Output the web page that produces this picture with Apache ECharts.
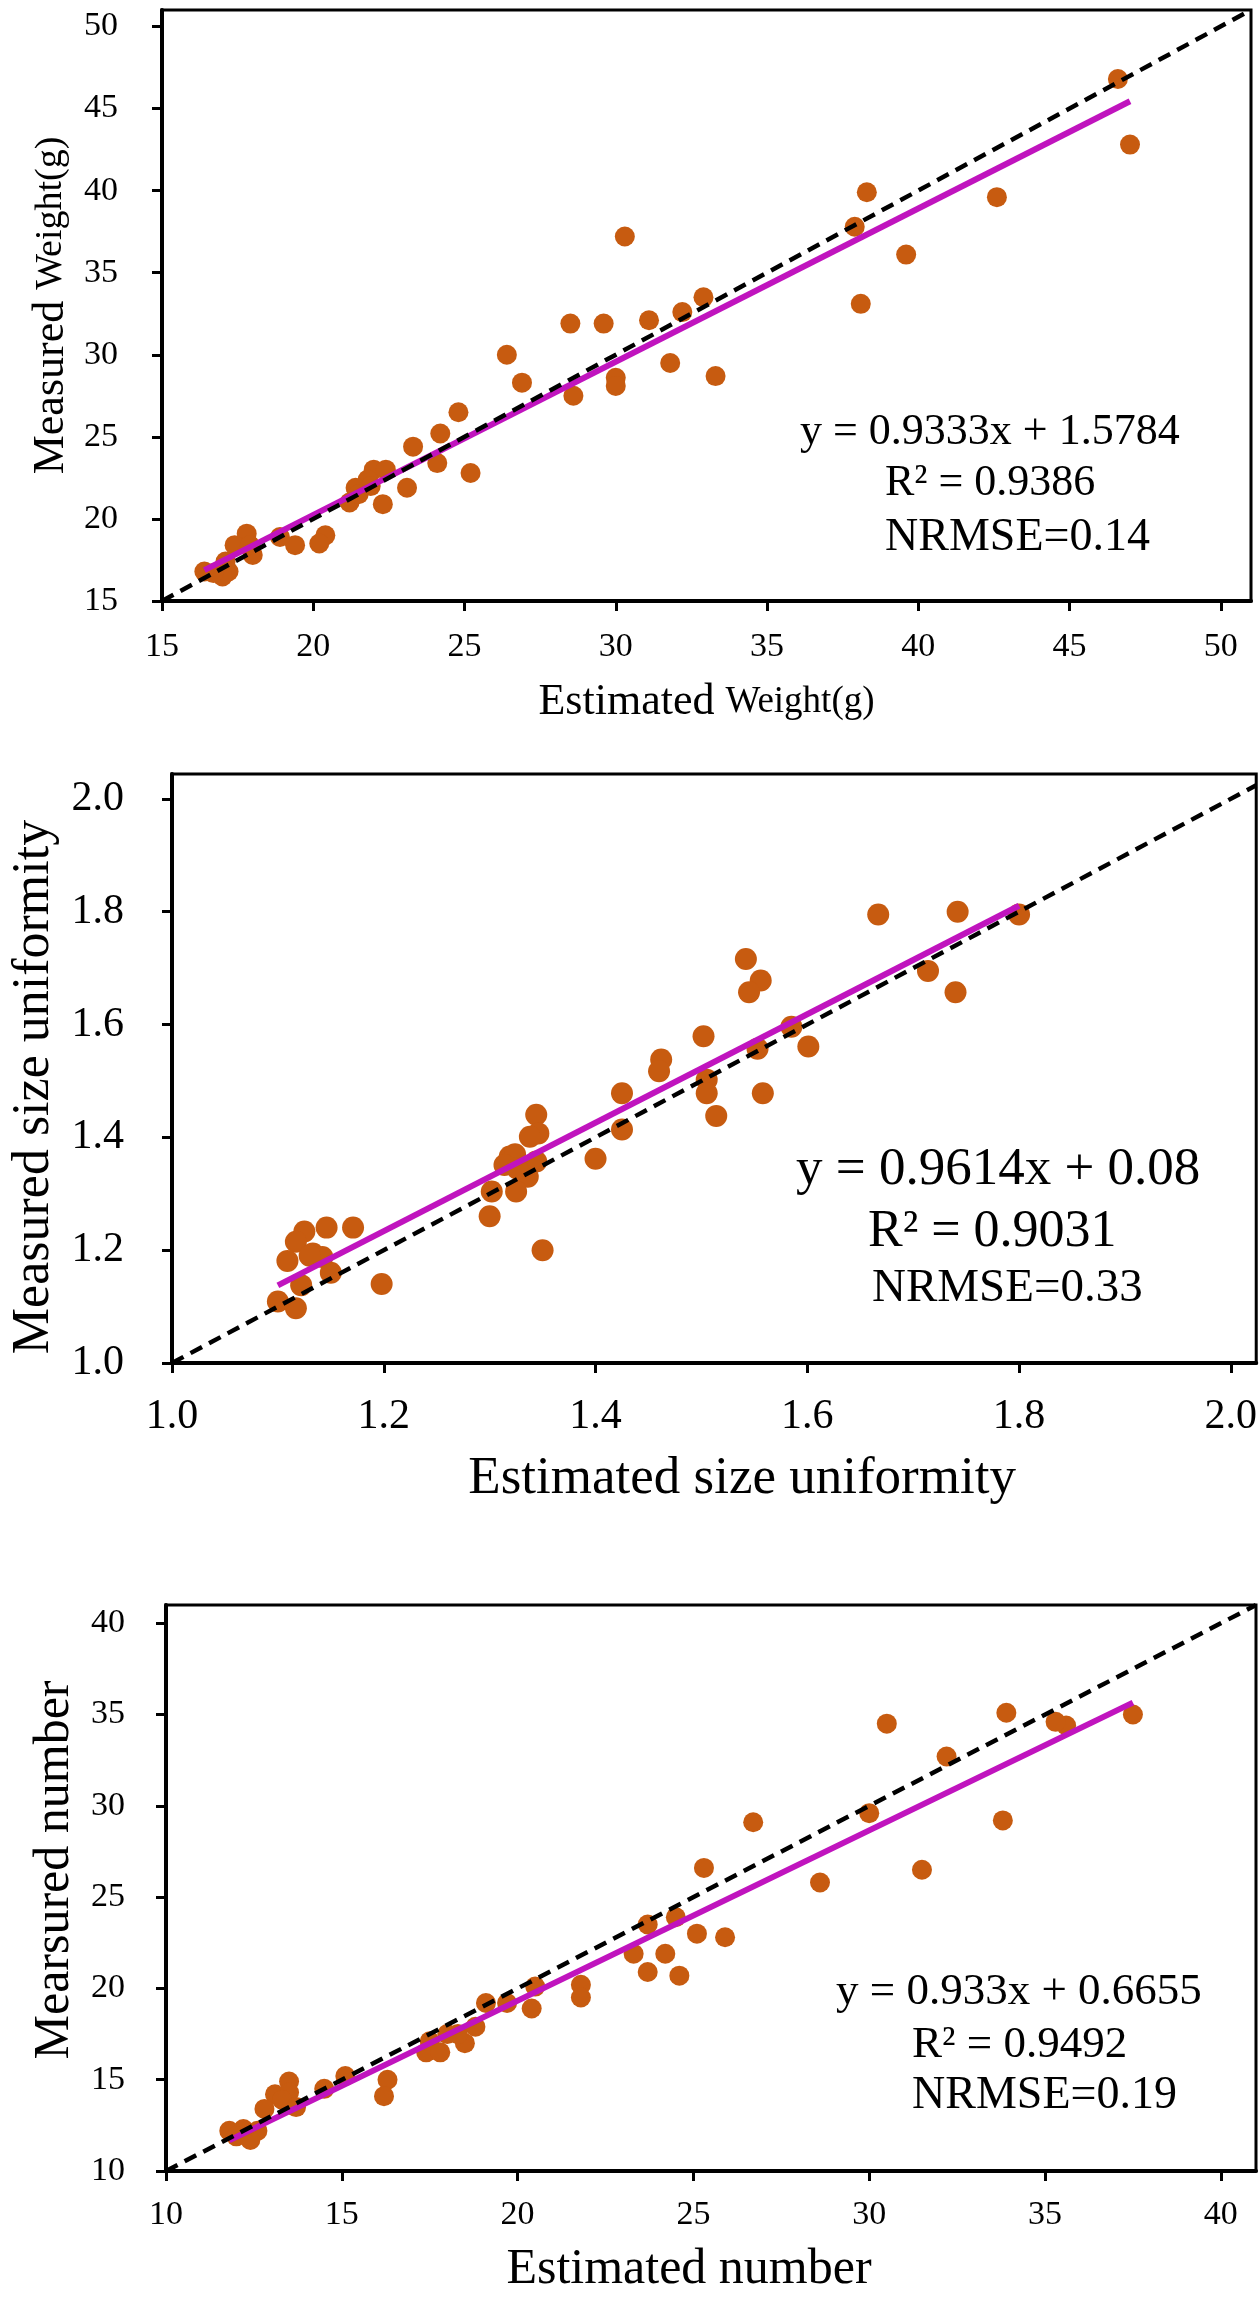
<!DOCTYPE html>
<html>
<head>
<meta charset="utf-8">
<title>Estimated vs measured</title>
<script src="https://cdn.jsdelivr.net/npm/echarts@6/dist/echarts.min.js"></script>
<style>
  html, body { margin: 0; padding: 0; background: #fff; }
  #chart { width: 1260px; height: 2298px; }
</style>
</head>
<body>
<div id="chart"></div>
<script>
// ---- panel 1: weight ----
var weightEst = [46.6, 47.0, 42.6, 38.3, 37.9, 39.6, 38.1, 30.3, 32.9, 32.2, 31.1, 29.6, 28.5, 31.8, 33.3, 26.4,
	26.9, 30.0, 30.0, 28.6, 24.8, 24.2, 23.3, 24.1, 25.2, 23.1, 22.3, 22.0, 22.4, 21.8, 21.4, 21.9,
	21.2, 21.5, 20.4, 20.2, 19.4, 18.9, 17.8, 17.4, 18.0, 17.9, 17.1, 17.2, 17.0, 16.4, 16.7];
var weightMeas = [46.8, 42.8, 39.6, 39.9, 37.8, 36.1, 33.1, 37.2, 33.5, 32.6, 32.1, 31.9, 31.9, 29.5, 28.7, 30.0,
	28.3, 28.6, 28.1, 27.5, 26.5, 25.2, 24.4, 23.4, 22.8, 21.9, 20.9, 23.0, 23.0, 22.4, 21.9, 22.0,
	21.0, 21.5, 19.0, 18.5, 18.4, 18.9, 19.1, 18.4, 17.8, 18.4, 17.4, 16.8, 16.5, 16.8, 16.7];
var weightTicks = [15, 20, 25, 30, 35, 40, 45, 50];
var weightFit = [0.9333, 1.5784];      // slope, intercept
var weightFitRange = [16.4, 47.0];

// ---- panel 2: size uniformity ----
var uniformEst = [1.800, 1.742, 1.667, 1.714, 1.740, 1.542, 1.556, 1.545, 1.585, 1.601, 1.553, 1.558, 1.502, 1.505,
	1.505, 1.514, 1.462, 1.460, 1.425, 1.425, 1.400, 1.344, 1.346, 1.338, 1.344, 1.319, 1.324, 1.314,
	1.336, 1.325, 1.302, 1.300, 1.350, 1.326, 1.198, 1.171, 1.146, 1.125, 1.117, 1.109, 1.133, 1.142,
	1.150, 1.122, 1.100, 1.117, 1.130];
var uniformMeas = [1.795, 1.800, 1.795, 1.695, 1.657, 1.716, 1.678, 1.657, 1.596, 1.561, 1.557, 1.478, 1.579, 1.502,
	1.478, 1.438, 1.538, 1.517, 1.478, 1.414, 1.362, 1.440, 1.407, 1.401, 1.357, 1.366, 1.370, 1.351,
	1.330, 1.304, 1.304, 1.260, 1.200, 1.345, 1.140, 1.240, 1.240, 1.233, 1.215, 1.181, 1.194, 1.188,
	1.160, 1.138, 1.109, 1.097, 1.190];
var uniformTicks = [1.0, 1.2, 1.4, 1.6, 1.8, 2.0];
var uniformFit = [0.9614, 0.08];
var uniformFitRange = [1.10, 1.80];

// ---- panel 3: number ----
var numberEst = [37.5, 35.6, 35.3, 33.9, 33.8, 32.2, 31.5, 30.5, 30.0, 28.6, 26.7, 25.3, 25.9, 25.1, 24.5, 23.7,
	23.7, 24.6, 24.2, 23.3, 21.8, 21.8, 20.5, 20.4, 19.7, 19.1, 18.8, 18.5, 18.0, 18.3, 17.5, 17.4,
	17.8, 16.3, 16.2, 15.1, 14.5, 13.5, 13.1, 13.5, 13.3, 13.7, 12.8, 11.8, 12.2, 12.6, 12.0, 12.4];
var numberMeas = [35.0, 34.4, 34.6, 35.1, 29.2, 32.7, 26.5, 34.5, 29.6, 25.8, 29.1, 26.6, 22.8, 23.0, 23.9, 23.5,
	20.9, 20.7, 21.9, 21.9, 20.2, 19.5, 20.1, 18.9, 19.2, 19.2, 17.9, 17.0, 17.5, 17.5, 17.1, 16.5,
	16.5, 15.0, 14.1, 15.2, 14.5, 14.9, 14.2, 14.3, 13.9, 13.5, 13.4, 12.2, 12.3, 12.2, 11.9, 11.7];
var numberTicks = [10, 15, 20, 25, 30, 35, 40];
var numberFit = [0.933, 0.6655];
var numberFitRange = [11.8, 37.5];

var FONT = 'Liberation Serif';
var ORANGE = '#C75B10';
var MAGENTA = '#C014BE';

var grids = [], xAxes = [], yAxes = [], series = [], graphics = [];

function pairs(xs, ys) {
	var out = [];
	for (var i = 0; i < xs.length; i++) out.push([xs[i], ys[i]]);
	return out;
}

function fitLine(fit, range) {
	return [
		[range[0], fit[0] * range[0] + fit[1]],
		[range[1], fit[0] * range[1] + fit[1]]
	];
}

function addPanel(p) {
	var idx = grids.length;
	grids.push({
		left: p.box[0], top: p.box[1], width: p.box[2], height: p.box[3],
		show: true, borderColor: '#000', borderWidth: 3, backgroundColor: 'transparent'
	});

	// only the listed tick values get a label; the axis end (e.g. 51) stays blank
	function label(v) {
		for (var i = 0; i < p.ticks.length; i++) {
			if (Math.abs(p.ticks[i] - v) < 1e-6) return p.fmt(v);
		}
		return '';
	}

	function axis(min, max, name, gap, nameStyle, margin) {
		return {
			gridIndex: idx,
			type: 'value',
			min: min,
			max: max,
			interval: p.step,
			name: name,
			nameLocation: 'middle',
			nameGap: gap,
			nameTextStyle: nameStyle,
			axisLine: {show: true, onZero: false, lineStyle: {color: '#000', width: 4}},
			axisTick: {show: true, length: 10, lineStyle: {color: '#000', width: 3}, customValues: p.ticks},
			axisLabel: {
				show: true,
				margin: margin,
				color: '#000',
				fontFamily: FONT,
				fontSize: p.labelSize,
				formatter: label
			},
			splitLine: {show: false}
		};
	}

	xAxes.push(axis(p.min, p.xMax, p.xName, p.xGap, p.xNameStyle, p.xMargin));
	yAxes.push(axis(p.min, p.yMax, p.yName, p.yGap, p.yNameStyle, p.yMargin));

	var diagEnd = Math.min(p.xMax, p.yMax);
	series.push({
		type: 'scatter', xAxisIndex: idx, yAxisIndex: idx,
		data: pairs(p.est, p.meas),
		symbolSize: p.dot,
		itemStyle: {color: ORANGE, opacity: 1},
		z: 2
	});
	series.push({
		type: 'line', xAxisIndex: idx, yAxisIndex: idx,
		data: fitLine(p.fit, p.fitRange),
		symbol: 'none',
		lineStyle: {color: MAGENTA, width: 6},
		z: 3
	});
	series.push({
		type: 'line', xAxisIndex: idx, yAxisIndex: idx,
		data: [[p.min, p.min], [diagEnd, diagEnd]],
		symbol: 'none',
		lineStyle: {color: '#000', width: 4.5, type: [13, 8]},
		z: 4
	});

	// equation text block
	p.notes.forEach(function (n) {
		graphics.push({
			type: 'text',
			x: n[1], y: n[2],
			style: {
				text: n[0],
				fill: '#000',
				fontFamily: FONT,
				fontSize: n[3],
				align: 'left', textAlign: 'left',
				verticalAlign: 'middle', textVerticalAlign: 'middle'
			}
		});
	});
}

function nameStyle(size, padding) {
	return {color: '#000', fontFamily: FONT, fontSize: size, padding: padding || 0};
}

addPanel({
	box: [162, 10, 1089, 591],
	min: 15, xMax: 51, yMax: 51, step: 5, ticks: weightTicks,
	est: weightEst, meas: weightMeas, fit: weightFit, fitRange: weightFitRange,
	dot: 20, labelSize: 34, xMargin: 29, yMargin: 44,
	fmt: function (v) { return String(v); },
	xName: '{a|Estimated} {b|Weight(g)}', xGap: 79,
	xNameStyle: {color: '#000', fontFamily: FONT, fontSize: 44,
		rich: {a: {fontFamily: FONT, fontSize: 44, lineHeight: 44}, b: {fontFamily: FONT, fontSize: 37, lineHeight: 44}}},
	yName: '{a|Measured} {b|Weight(g)}', yGap: 80,
	yNameStyle: {color: '#000', fontFamily: FONT, fontSize: 44,
		rich: {a: {fontFamily: FONT, fontSize: 44, lineHeight: 44}, b: {fontFamily: FONT, fontSize: 38, lineHeight: 44}}},
	notes: [
		['y = 0.9333x + 1.5784', 800, 432, 44],
		['R\u00b2 = 0.9386', 885, 483, 44],
		['NRMSE=0.14', 885, 538, 46]
	]
});

addPanel({
	box: [169, 774, 1088, 589],
	min: 1.0, xMax: 2.024, yMax: 2.044, step: 0.2, ticks: uniformTicks,
	est: uniformEst, meas: uniformMeas, fit: uniformFit, fitRange: uniformFitRange,
	dot: 22, labelSize: 42, xMargin: 33, yMargin: 48,
	fmt: function (v) { return v.toFixed(1); },
	xName: 'Estimated size uniformity', xGap: 90, xNameStyle: nameStyle(53, [0, 0, 0, 56]),
	yName: 'Measured size uniformity', yGap: 112, yNameStyle: nameStyle(52, [0, 37, 0, 0]),
	notes: [
		['y = 0.9614x + 0.08', 796, 1170, 53],
		['R\u00b2 = 0.9031', 868, 1232, 52],
		['NRMSE=0.33', 872, 1289, 47]
	]
});

addPanel({
	box: [166, 1605, 1090, 566],
	min: 10, xMax: 41, yMax: 41, step: 5, ticks: numberTicks,
	est: numberEst, meas: numberMeas, fit: numberFit, fitRange: numberFitRange,
	dot: 20, labelSize: 34, xMargin: 27, yMargin: 41,
	fmt: function (v) { return String(v); },
	xName: 'Estimated number', xGap: 74, xNameStyle: nameStyle(50, [0, 44, 0, 0]),
	yName: 'Mearsured number', yGap: 81, yNameStyle: nameStyle(50, [0, 0, 0, 36]),
	notes: [
		['y = 0.933x + 0.6655', 836, 1992, 45],
		['R\u00b2 = 0.9492', 912, 2045, 45],
		['NRMSE=0.19', 912, 2096, 46]
	]
});

var myChart = echarts.init(document.getElementById('chart'));
myChart.setOption({
	animation: false,
	backgroundColor: '#fff',
	grid: grids,
	xAxis: xAxes,
	yAxis: yAxes,
	series: series,
	graphic: graphics
});
</script>
</body>
</html>
